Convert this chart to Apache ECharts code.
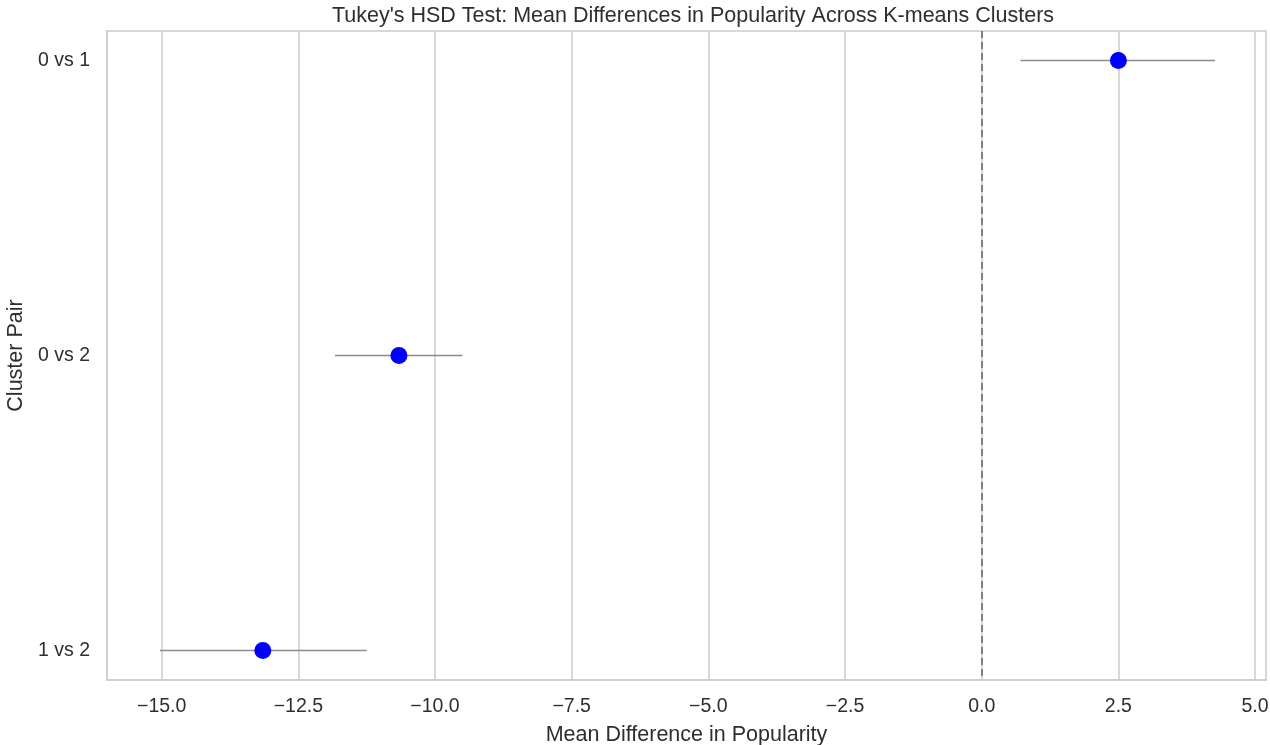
<!DOCTYPE html>
<html>
<head>
<meta charset="utf-8">
<script src="https://cdn.jsdelivr.net/npm/echarts@6/dist/echarts.min.js"></script>
<style>html,body{margin:0;padding:0;background:#fff}#c{width:1270px;height:745px}</style>
</head>
<body>
<div id="c"></div>
<script>
const pairs = ['0 vs 1', '0 vs 2', '1 vs 2'];
const meanDiff = [2.50, -10.66, -13.15];
const lower = [0.71, -11.83, -15.03];
const upper = [4.27, -9.50, -11.25];
const xTicks = [-15, -12.5, -10, -7.5, -5, -2.5, 0, 2.5, 5];
const yTicks = [0, 1, 2];

const font = 'Liberation Sans, Arial, sans-serif';
const textColor = '#2e2e2e';

const chart = echarts.init(document.getElementById('c'), null, {renderer: 'canvas'});
chart.setOption({
  animation: false,
  backgroundColor: '#ffffff',
  title: {
    text: "Tukey's HSD Test: Mean Differences in Popularity Across K-means Clusters",
    left: 688, top: 0, textAlign: 'center',
    textStyle: {fontFamily: font, fontSize: 21.5, fontWeight: 'normal', color: textColor}
  },
  grid: {left: 107, right: 4, top: 31, bottom: 65, show: true, borderColor: '#cccccc', borderWidth: 1.5,
    containLabel: false, outerBoundsMode: 'none'},
  xAxis: {
    type: 'value', min: -16, max: 5.2,
    name: 'Mean Difference in Popularity', nameLocation: 'middle', nameGap: 44,
    nameTextStyle: {fontFamily: font, fontSize: 21.5, color: textColor},
    axisLine: {show: true, onZero: false, lineStyle: {color: '#cccccc', width: 1.5}},
    axisTick: {show: false, customValues: xTicks},
    axisLabel: {customValues: xTicks, fontFamily: font, fontSize: 19.5, color: textColor, margin: 17,
      formatter: v => (v < 0 ? '\u2212' : '') + Math.abs(v).toFixed(1)},
    splitLine: {show: true, lineStyle: {color: '#cccccc', width: 1.5}}
  },
  yAxis: {
    type: 'value', min: -0.1, max: 2.1, inverse: true,
    name: 'Cluster Pair', nameLocation: 'middle', nameGap: 79, nameRotate: 90,
    nameTextStyle: {fontFamily: font, fontSize: 21.5, color: textColor},
    axisLine: {show: true, onZero: false, lineStyle: {color: '#cccccc', width: 1.5}},
    axisTick: {show: false, customValues: yTicks},
    axisLabel: {customValues: yTicks, fontFamily: font, fontSize: 19.5, color: textColor, margin: 17,
      formatter: v => pairs[Math.round(v)] || ''},
    splitLine: {show: false}
  },
  series: [
    {
      type: 'custom',
      data: pairs.map((p, i) => [lower[i], upper[i], i]),
      renderItem: function (params, api) {
        const a = api.coord([api.value(0), api.value(2)]);
        const b = api.coord([api.value(1), api.value(2)]);
        return {type: 'line', shape: {x1: a[0], y1: a[1], x2: b[0], y2: b[1]},
          style: {stroke: '#8c8c8c', lineWidth: 1.5}};
      },
      z: 3,
      markLine: {
        silent: true, symbol: 'none', label: {show: false},
        lineStyle: {color: '#808080', type: [7, 4], width: 2},
        data: [{xAxis: 0}]
      }
    },
    {
      type: 'scatter',
      data: pairs.map((p, i) => [meanDiff[i], i]),
      symbol: 'circle', symbolSize: 17,
      itemStyle: {color: '#0000ff', opacity: 1},
      z: 5
    }
  ]
});
</script>
</body>
</html>
